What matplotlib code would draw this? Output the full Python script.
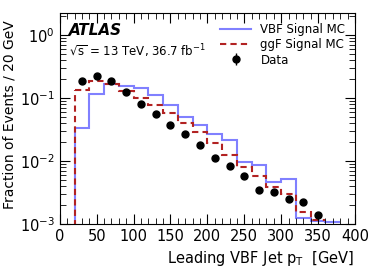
import numpy as np
import matplotlib.pyplot as plt
from matplotlib.ticker import MultipleLocator, LogLocator, NullFormatter

# bin edges (GeV)
edges = np.arange(20, 400, 20)

vbf = [0.0338, 0.114, 0.167, 0.153, 0.146, 0.113, 0.0775, 0.0506, 0.0378,
       0.0272, 0.0215, 0.00953, 0.00875, 0.0047, 0.0051, 0.00123, 0.00113, 0.00108]
ggf = [0.134, 0.186, 0.167, 0.131, 0.100, 0.0766, 0.0585, 0.0397, 0.0292,
       0.0193, 0.0124, 0.0081, 0.00585, 0.0039, 0.00303, 0.00153, 0.00116]

data_x = [30, 50, 70, 90, 110, 130, 150, 170, 190, 210, 230, 250, 270, 290, 310, 330, 350]
data_y = [0.186, 0.223, 0.184, 0.124, 0.0803, 0.0550, 0.0368, 0.0265, 0.0182,
          0.0112, 0.00843, 0.00585, 0.00342, 0.00318, 0.00252, 0.00223, 0.00137]

fig = plt.figure(figsize=(3.74, 2.67), dpi=100)
ax = fig.add_axes([0.160, 0.161, 0.789, 0.789])

# step histograms, dropping to the bottom at the first edge
vbf_edges = edges[:len(vbf) + 1]
ggf_edges = edges[:len(ggf) + 1]
ax.stairs(vbf, vbf_edges, baseline=None, color='#8080ff', lw=1.5, label='VBF Signal MC')
ax.plot([vbf_edges[0], vbf_edges[0]], [1e-4, vbf[0]], color='#8080ff', lw=1.5)
ax.stairs(ggf, ggf_edges, baseline=None, color='#b22222', lw=1.5, ls=(0, (3, 2)), label='ggF Signal MC')
ax.plot([ggf_edges[0], ggf_edges[0]], [1e-4, ggf[0]], color='#b22222', lw=1.5, ls=(0, (3, 2)))

ax.errorbar(data_x, data_y, yerr=np.array(data_y) * 0.03, fmt='o', color='black',
            ms=5, elinewidth=1, label='Data')

ax.set_yscale('log')
ax.set_xlim(0, 400)
ax.set_ylim(1e-3, 2.2)
ax.xaxis.set_major_locator(MultipleLocator(50))
ax.xaxis.set_minor_locator(MultipleLocator(10))
ax.yaxis.set_major_locator(LogLocator(base=10, numticks=10))
ax.yaxis.set_minor_locator(LogLocator(base=10, subs=np.arange(2, 10), numticks=10))
ax.yaxis.set_minor_formatter(NullFormatter())
ax.tick_params(which='both', direction='in', top=True, right=True, labelsize=10.5)
ax.tick_params(which='major', length=7)
ax.tick_params(which='minor', length=4)

ax.set_xlabel(r'Leading VBF Jet p$_\mathrm{T}$  [GeV]', fontsize=10.5, loc='right')
ax.set_ylabel('Fraction of Events / 20 GeV', fontsize=10)
ax.yaxis.set_label_coords(-0.148, 0.52)

ax.text(0.03, 0.895, 'ATLAS', transform=ax.transAxes, fontsize=11,
        fontweight='bold', style='italic')
ax.text(0.03, 0.795, r'$\sqrt{\mathrm{s}}$ = 13 TeV, 36.7 fb$^{-1}$',
        transform=ax.transAxes, fontsize=8.5)

handles, labels = ax.get_legend_handles_labels()
ax.legend(handles, labels, loc='upper right', frameon=False, fontsize=8.5,
          handlelength=2.6, handletextpad=0.8, borderaxespad=0.4, labelspacing=0.2)

fig.savefig('out.png', dpi=100)
